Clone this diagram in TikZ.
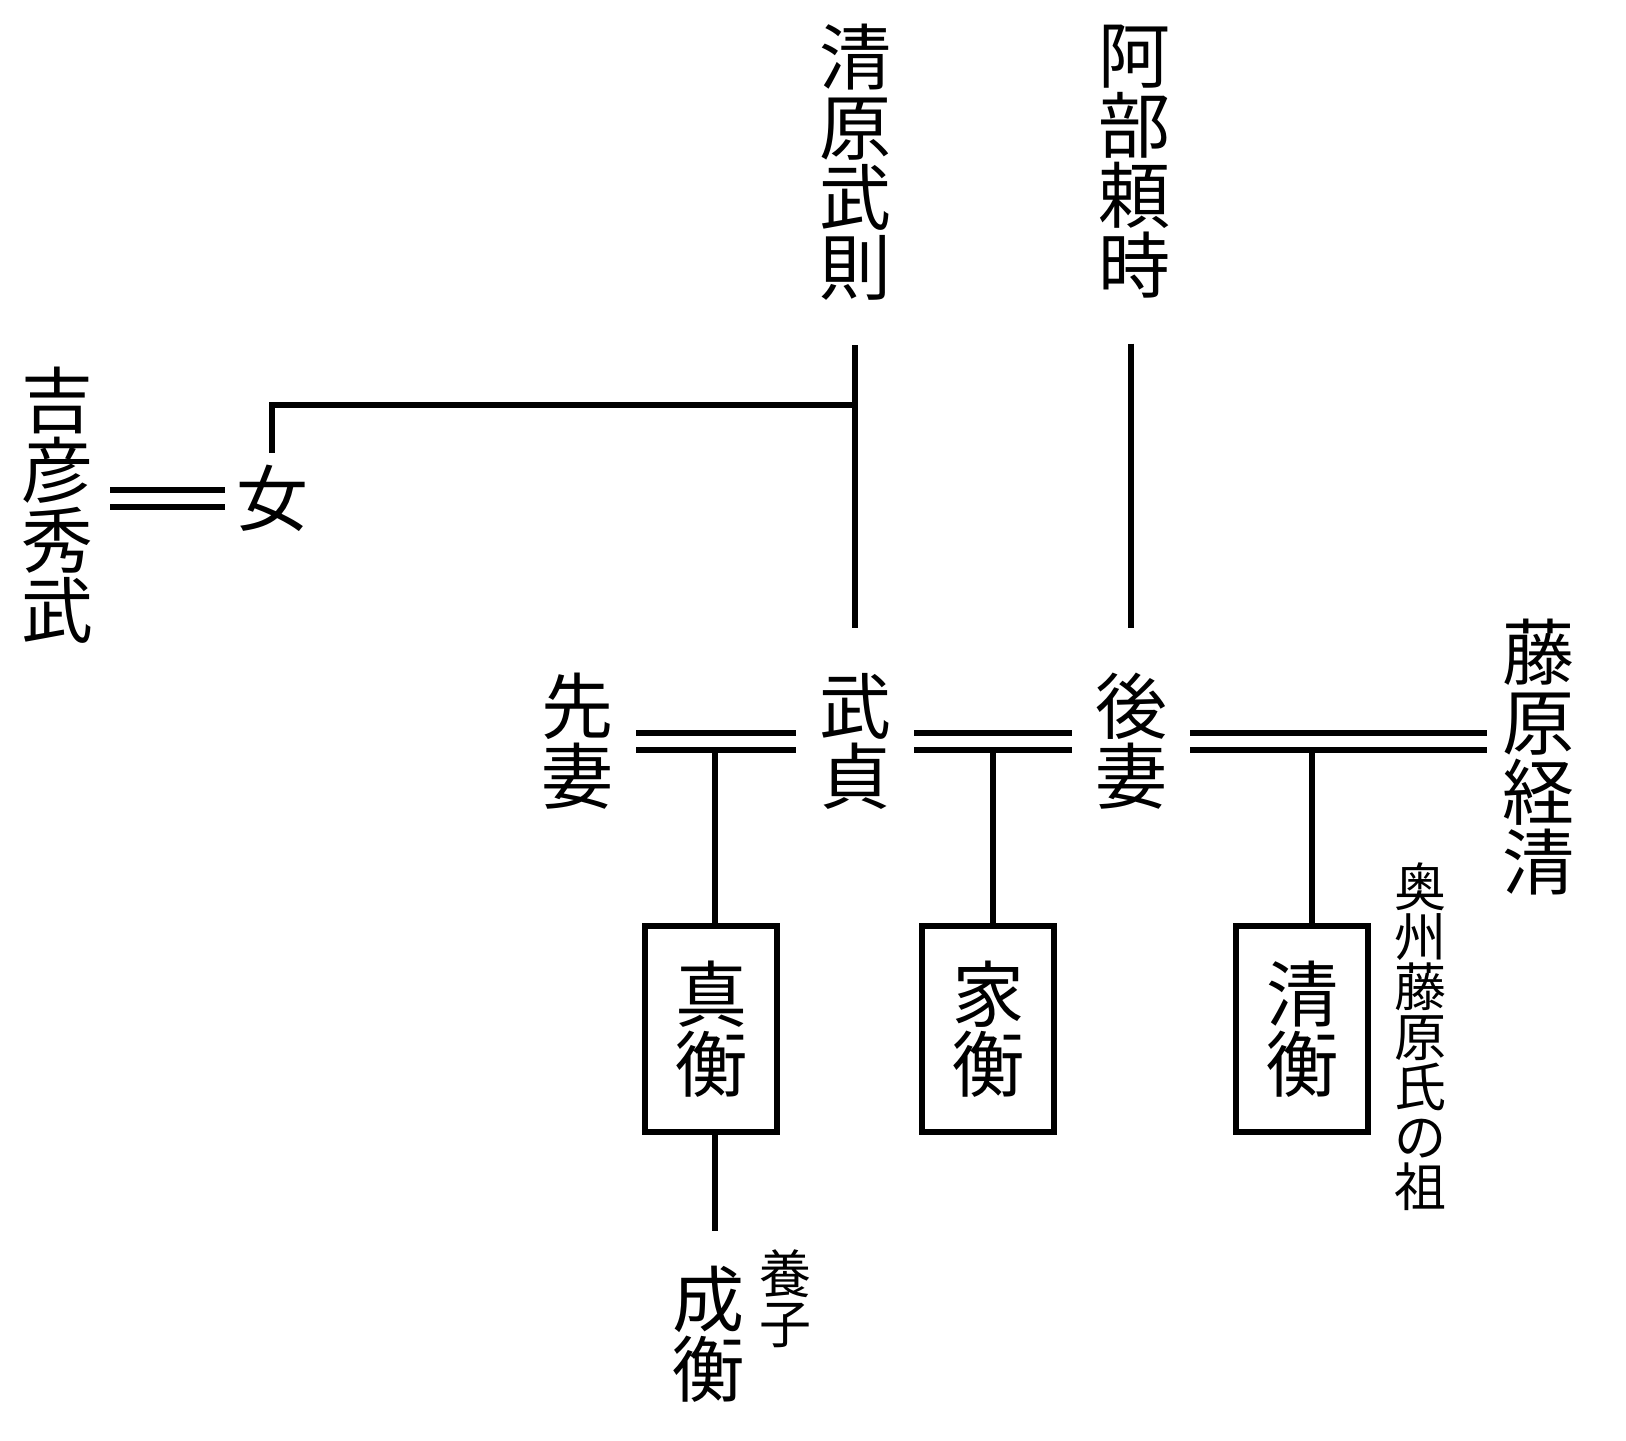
\documentclass[tikz,border=0pt]{standalone}
\usepackage{fontspec}
\setmainfont{Noto Sans CJK JP}

\begin{document}
\begin{tikzpicture} [x=0.5pt, y=-0.5pt, line width=3pt]
    \tikzstyle{person} = [inner sep=0pt, align=center, font={\fontsize{36}{35}\selectfont}]
    \tikzstyle{note} = [inner sep=0pt, align=center, font={\fontsize{26}{25}\selectfont}]
    \tikzstyle{heir} = [person, draw, minimum width=66pt, minimum height=103pt]
    \tikzstyle{marriage} = [double, double distance=5.5pt, shorten <=10pt, shorten >=10pt]
    \tikzstyle{descent} = [shorten <=21pt, shorten >=21pt]

      \useasboundingbox (0,0) rectangle (1626,1440);

      \node[person] (hidetake)  at (57,505)    {吉\\彦\\秀\\武};
      \node[person] (onna)      at (272,498)   {女};
      \node[person] (kiyohara)  at (855,162)   {清\\原\\武\\則};
      \node[person] (abe)       at (1134,162)  {阿\\部\\頼\\時};
      \node[person] (senmai)    at (577,741)   {先\\妻};
      \node[person] (takesada)  at (855,741)   {武\\貞};
      \node[person] (gosai)     at (1131,741)  {後\\妻};
      \node[person] (tsunekiyo) at (1538,757)  {藤\\原\\経\\清};
      \node[heir]   (mahira)    at (711,1029)  {真\\衡};
      \node[heir]   (iehira)    at (988,1029)  {家\\衡};
      \node[heir]   (kiyohira)  at (1302,1029) {清\\衡};
      \node[person] (narihira)  at (708,1334)  {成\\衡};
      \node[note]   (yoshi)     at (785,1299)  {養\\子};
      \node[note]   (soo)       at (1420,1037) {奥\\州\\藤\\原\\氏\\の\\祖};

      \coordinate (kj) at (855,405);
      \coordinate (j1) at (715,749);
      \coordinate (j2) at (993,749);
      \coordinate (j3) at (1312,749);

      \draw[descent] (kiyohara.south) -- (takesada.north);
      \draw[descent] (abe.south -| gosai.north) -- (gosai.north);
      \draw[shorten >=4.5pt] (kj) -| (onna.north);
      \draw[marriage, shorten <=4pt, shorten >=7pt] (onna.west) -- (onna.west -| hidetake.east);
      \draw[marriage] (senmai.east) -- (takesada.west);
      \draw[marriage] (takesada.east) -- (gosai.west);
      \draw[marriage, shorten >=6pt] (gosai.east) -- (gosai.east -| tsunekiyo.west);

      \draw (j1) -- (j1 |- mahira.north);
      \draw (j2) -- (j2 |- iehira.north);
      \draw (j3) -- (j3 |- kiyohira.north);
      \draw[shorten >=16pt] (j1 |- mahira.south) -- (j1 |- narihira.north);
    \end{tikzpicture}
\end{document}
